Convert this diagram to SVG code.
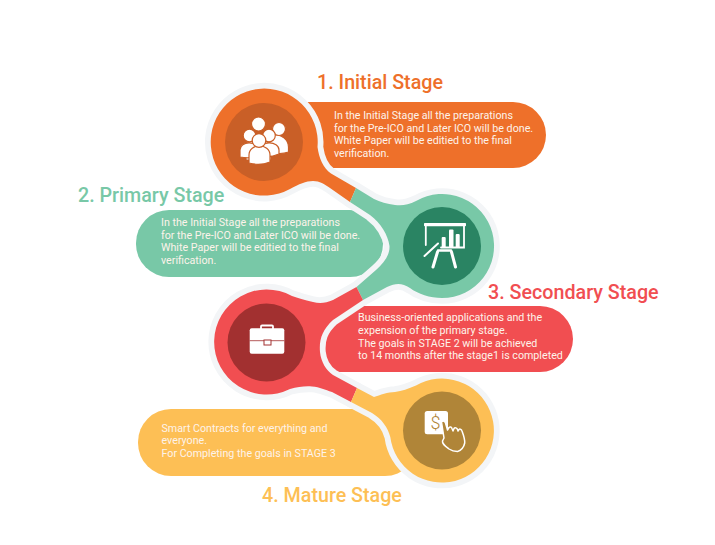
<svg xmlns="http://www.w3.org/2000/svg" width="715" height="545" viewBox="0 0 715 545">
<style>
.h{fill:#f3f5f7;stroke:#f3f5f7;stroke-width:11.500;stroke-linejoin:round}
.ti{font-family:Roboto,"Liberation Sans",sans-serif;font-size:19.700px;font-weight:500}
.b{font-family:Roboto,"Liberation Sans",sans-serif;font-size:10.7px;fill:#fdf3ea}
.o{fill:#ee702a}.od{fill:#c95f27}.g{fill:#78c8a7}.gd{fill:#2a8463}.r{fill:#f14e51}.rd{fill:#a23030}.y{fill:#fdbf55}.yd{fill:#b08538}
.pe{fill:#fff;stroke:#c95f27;stroke-width:1.2}
.w{stroke:#fff;fill:none;stroke-linecap:round}
</style>
<defs>
<path id="b1" d="M356,188 L331,173.500 C323,168 319,158 317.500,147 A53.500,53.500 0 1 0 290,189 C299,184 306,181 313,181 C320,181 324,184 330,188 L350,202 Z"/>
<path id="b2" d="M356,188 L350,202 L370,215 C381,223 388,235 389.500,246 C390,255 384,263 376,270 L356.500,287 L363,300 L387,287 C396,283 402,283 410,288 C418,294 430,298 442,298 A52,52 0 1 0 416,201 C408,205 402,206 395,205 C387,204 380,202 374,199 Z"/>
<path id="b3" d="M356.500,287 L333,300 C326,303 320,304 313,302 C304,300 298,298 292,296 A52.500,52.500 0 1 0 290,389 C298,387 304,386 312,386.500 C320,387 325,390 332,392 L351,402 L357,388 L333,375 C326,370 321,362 320,352 C319,340 322,330 333,320 L363,300 Z"/>
<path id="b4" d="M357,388 L351,402 L372,413 C382,419 388,428 390.300,437 A52,52 0 1 0 416,385.500 C408,389 402,391 395,392 C388,392 380,395 374,397 Z"/>
</defs>
<g id="pills">
<rect class="o" x="270" y="102" width="276" height="66" rx="33"/>
<rect class="g" x="136" y="210" width="247" height="67" rx="33"/>
<rect class="r" x="290" y="306" width="283" height="66" rx="33"/>
<rect class="y" x="138" y="409" width="280" height="67" rx="33"/>
</g>
<g id="connectors">
<use href="#b1" class="h"/><use href="#b2" class="h"/><use href="#b3" class="h"/><use href="#b4" class="h"/>
<use href="#b1" class="o"/><use href="#b2" class="g"/><use href="#b3" class="r"/><use href="#b4" class="y"/>
</g>
<g id="node1">
<circle class="od" cx="264" cy="142" r="39"/>
<g class="pe">
<path d="M246,148 C246,137 270,137 271,148 L271,160 L246,160 Z"/><circle cx="258.500" cy="124" r="7"/>
<path d="M270,152 L270,136 C276,133 288,136 288.500,147 L288.500,152 Q280,155 270,152 Z"/><circle cx="279" cy="129" r="6.500"/>
<path d="M240,157 L240,150 C240,141 258,140 258,150 L258,156 Q250,159 240,157 Z"/><circle cx="249.500" cy="135.500" r="6.300"/>
<path d="M260,156 L260,150 C260,140 279,141 279,150 L279,154 Q270,158 260,156 Z"/><circle cx="269" cy="135.500" r="6.300"/>
<path d="M249,163 L249,155 C249,143 270,143 270,155 L270,162 Q260,166 249,163 Z"/><circle cx="259" cy="140.500" r="6.800"/>
</g>
</g>
<g id="node2">
<circle class="gd" cx="442" cy="246" r="39"/>
<rect x="424" y="223" width="42" height="3.200" rx=".8" fill="#fff"/>
<path class="w" stroke-width="1.800" d="M425.800,226 V245 M464,226 V247.500 H441"/>
<g fill="#fff"><rect x="441.700" y="237" width="4" height="11" rx="1"/><rect x="449" y="229.500" width="4.500" height="18" rx="1"/><rect x="455.700" y="234" width="4" height="14" rx="1"/></g>
<path class="w" stroke-width="2" d="M424.500,256 L438,243.500"/>
<path class="w" stroke-width="3" d="M437.500,252 L433,267 M451.500,252 L455.500,267"/>
<path class="w" stroke-width="2.500" d="M438,250.500 H451"/>
</g>
<g id="node3">
<circle class="rd" cx="266.500" cy="342.500" r="39"/>
<rect x="261" y="325.500" width="12" height="5" rx="1" fill="none" stroke="#fff" stroke-width="1.800"/>
<rect x="249.700" y="328.300" width="34.600" height="25.400" rx="2" fill="#fff"/>
<path d="M249.700,340.700 H284.300" stroke="#a23030" stroke-width=".8"/>
<rect x="264" y="340" width="7" height="5" fill="#fff" stroke="#a23030" stroke-width="1"/>
</g>
<g id="node4">
<circle class="yd" cx="442" cy="430.500" r="39"/>
<rect x="424.700" y="411" width="23.300" height="23.300" rx="2.500" fill="#fff"/>
<text x="435.500" y="429" text-anchor="middle" font-family="Roboto,'Liberation Sans',sans-serif" font-size="18" font-weight="300" fill="#b08538">$</text>
<path d="M441.500,422 C443,420.500 445,421 445.500,423 L447.500,430 L449,427.500 C450,426.500 451.500,427 452,428.500 L453,431 L454,428.500 C455,427 457,428 457.500,429.500 L458,431 L459,429.500 C460,428.500 461.500,429.500 462,431 C463.500,435 465,439 464.700,443 C464,447 461,451 457.500,451.500 C454,451.500 452,451 449,449 C445,446 442,444 442.500,441 L444,438 Z" fill="#b08538" stroke="#fff" stroke-width="1.500" stroke-linejoin="round"/>
</g>
<g id="labels">
<text class="ti" x="317" y="88.500" fill="#ee702a">1. Initial Stage</text>
<text class="b"><tspan x="334" y="119">In the Initial Stage all the preparations</tspan><tspan x="334" y="131.700">for the Pre-ICO and Later ICO will be done.</tspan><tspan x="334" y="144.300">White Paper will be editied to the final</tspan><tspan x="334" y="157">verification.</tspan></text>
<text class="ti" x="78" y="202" fill="#78c8a7">2. Primary Stage</text>
<text class="b"><tspan x="161" y="226">In the Initial Stage all the preparations</tspan><tspan x="161" y="238.700">for the Pre-ICO and Later ICO will be done.</tspan><tspan x="161" y="251.300">White Paper will be editied to the final</tspan><tspan x="161" y="264">verification.</tspan></text>
<text class="ti" x="488" y="298.500" fill="#f14e51">3. Secondary Stage</text>
<text class="b"><tspan x="358" y="321.300">Business-oriented applications and the</tspan><tspan x="358" y="334">expension of the primary stage.</tspan><tspan x="358" y="346.500">The goals in STAGE 2 will be achieved</tspan><tspan x="358" y="359">to 14 months after the stage1 is completed</tspan></text>
<text class="ti" x="262" y="501.500" fill="#fdbf55">4. Mature Stage</text>
<text class="b"><tspan x="161.500" y="431.700">Smart Contracts for everything and</tspan><tspan x="161.500" y="444.300">everyone.</tspan><tspan x="161.500" y="457">For Completing the goals in STAGE 3</tspan></text>
</g>
</svg>
